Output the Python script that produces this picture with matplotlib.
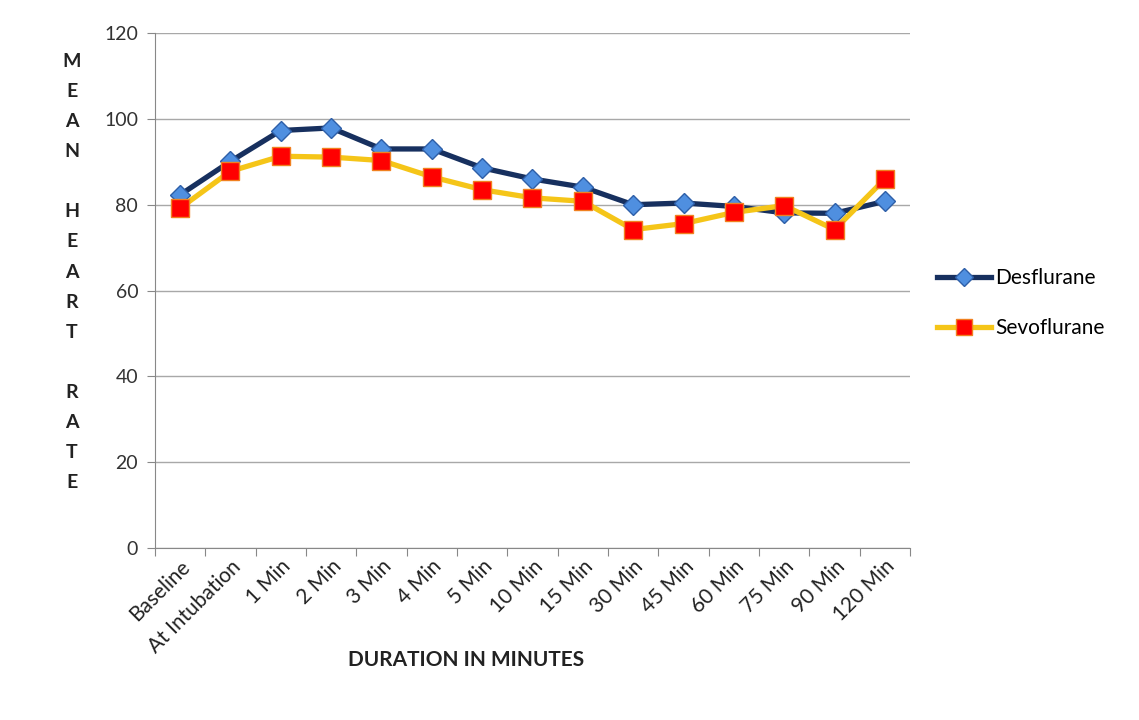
import matplotlib
matplotlib.use("Agg")
import matplotlib.pyplot as plt
import numpy as np

categories = ["Baseline", "At Intubation", "1 Min", "2 Min", "3 Min", "4 Min", "5 Min",
              "10 Min", "15 Min", "30 Min", "45 Min", "60 Min", "75 Min", "90 Min", "120 Min"]
desflurane = [82.3, 90.1, 97.3, 97.9, 93.0, 93.0, 88.6, 86.0, 84.1, 80.0, 80.4, 79.6, 78.1, 78.0, 80.8]
sevoflurane = [79.2, 87.8, 91.3, 91.1, 90.3, 86.5, 83.5, 81.6, 80.8, 74.2, 75.6, 78.2, 79.8, 74.2, 86.0]
yticks = [0, 20, 40, 60, 80, 100, 120]

plt.rcParams['font.family'] = ['Lato', 'DejaVu Sans']

fig = plt.figure(figsize=(11.39, 7.2), dpi=100)
ax = fig.add_axes([0.136, 0.239, 0.663, 0.715])

x = np.arange(len(categories))
l1, = ax.plot(x, desflurane, color='#17305F', lw=3.8, marker='D', markersize=10,
              markerfacecolor='#4F8FE0', markeredgecolor='#2E5FA8', markeredgewidth=1, zorder=3,
              label='Desflurane')
l2, = ax.plot(x, sevoflurane, color='#F5C518', lw=3.8, marker='s', markersize=13,
              markerfacecolor='#FF0000', markeredgecolor='#F08020', markeredgewidth=1, zorder=4,
              label='Sevoflurane')

ax.set_xlim(-0.5, len(categories) - 0.5)
ax.set_ylim(0, 120)
ax.set_yticks(yticks)
ax.set_yticklabels([str(v) for v in yticks], fontsize=14, color='#333333')
ax.yaxis.grid(True, color='#A8A8A8', lw=1)
ax.set_axisbelow(True)

ax.set_xticks(np.arange(-0.5, len(categories), 1.0))
ax.set_xticklabels([])
ax.set_xticks(x, minor=True)
ax.set_xticklabels(categories, minor=True, rotation=45, ha='right', va='top',
                   rotation_mode='anchor', fontsize=15, color='#222222')
ax.tick_params(axis='x', which='minor', length=0, pad=6)
ax.tick_params(axis='x', which='major', length=6, color='#888888', direction='out')
ax.tick_params(axis='y', length=6, color='#888888', direction='out', pad=6)

for s in ['top', 'right']:
    ax.spines[s].set_visible(False)
ax.spines['left'].set_color('#888888')
ax.spines['bottom'].set_color('#888888')

fig.text(466 / 1139, 1 - 660 / 720, "DURATION IN MINUTES", ha='center', va='center',
         fontsize=15, fontweight='bold', color='#222222')

ylabel = "M\nE\nA\nN\n\nH\nE\nA\nR\nT\n\nR\nA\nT\nE"
fig.text(72 / 1139, 1 - 272 / 720, ylabel, ha='center', va='center', fontsize=14,
         fontweight='bold', color='#222222', linespacing=1.93)

fig.legend(handles=[l1, l2], loc='center left', bbox_to_anchor=(918 / 1139, 1 - 303 / 720),
           frameon=False, fontsize=15, handlelength=2.6, handletextpad=0.2, labelspacing=1.45,
           markerscale=0.9)

fig.savefig("out.png", dpi=100, facecolor='white')
